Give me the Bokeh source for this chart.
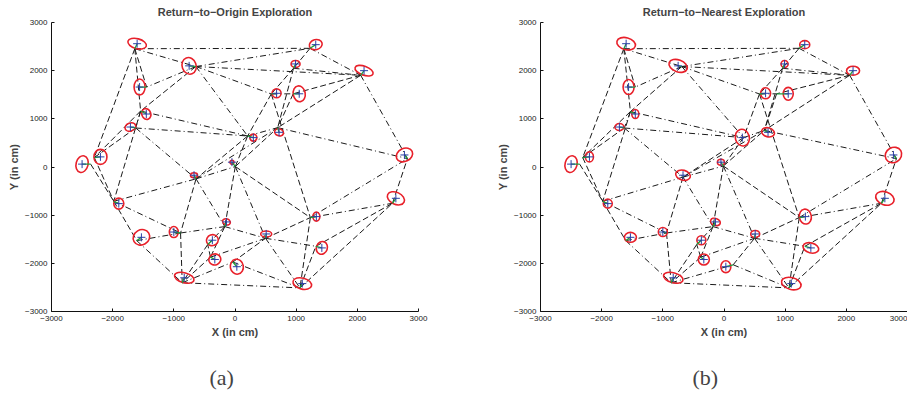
from bokeh.plotting import figure
from bokeh.models import Range1d, FixedTicker, Title, ColumnDataSource
from bokeh.layouts import row
from bokeh.embed import file_html
from bokeh.resources import INLINE

# ---------------- data ----------------
node_names = ["A", "B", "C", "D", "E", "F", "G", "H", "I", "J", "K", "L", "M", "N", "O",
              "P", "Q", "R", "S", "T", "U", "V", "W", "X", "Y", "Z", "a", "b", "c", "d"]
true_x = [-1600, -750, -1560, -1450, -1710, -2500, -2200, 1320, 990, 2110, 680, 1050, 300, 720, 2770,
          -50, -670, -1900, 2630, -1530, -1000, -140, -370, 510, 1330, 1420, -330, 30, -830, 1100]
true_y = [2560, 2100, 1660, 1100, 830, 60, 210, 2540, 2140, 2000, 1530, 1520, 610, 720, 250,
          100, -170, -760, -650, -1460, -1350, -1140, -1520, -1390, -1030, -1680, -1920, -2070, -2300, -2420]

# estimation error (estimated - true), cm
err_x_origin = [-38, 110, 115, -93, 87, 140, -100, -93, -33, -55, -87, -98, -93, -22, 49,
                55, 33, -82, -55, -76, 110, -27, -76, -11, -98, -98, -71, -65, -33, -38]
err_y_origin = [-104, -14, 0, 62, -20, 0, -14, -76, -90, -96, -14, 0, 34, 97, -76,
                -90, -76, 48, -103, -69, -20, -97, -90, -90, -20, 34, 48, 97, -103, -90]
err_x_nearest = [-38, 60, 110, -80, 80, 140, -110, -93, -33, -55, -100, -190, 20, -60, 49,
                 40, 0, -82, -55, -76, 60, -40, -76, -11, -100, -98, -50, 120, -33, -38]
err_y_nearest = [-104, -14, 0, 50, -20, 0, -14, -76, -90, -96, -14, 0, 0, 40, -76,
                 -80, -40, 48, -103, -69, -20, -97, -90, -90, -20, 34, 48, 40, -103, -90]

# uncertainty ellipses (cm) and tilt (deg)
ell_w_origin = [311, 229, 180, 147, 180, 196, 213, 213, 147, 311, 147, 196, 115, 147, 278,
                65, 115, 164, 295, 278, 147, 131, 196, 180, 115, 180, 196, 213, 327, 311]
ell_h_origin = [207, 352, 331, 228, 166, 352, 311, 207, 145, 186, 186, 331, 145, 145, 269,
                83, 104, 228, 248, 311, 228, 124, 228, 124, 186, 269, 228, 311, 207, 228]
ell_a_origin = [-15, 20, 0, 20, 20, -15, 0, 15, 0, -20, 0, 10, 0, -20, 25,
                0, 0, 0, -25, 30, 0, -20, 20, 0, 0, -20, 20, 10, -15, -15]
ell_w_nearest = [311, 311, 180, 115, 147, 196, 131, 164, 115, 213, 164, 164, 229, 213, 278,
                 115, 245, 147, 311, 196, 147, 164, 147, 147, 196, 262, 180, 164, 327, 327]
ell_h_nearest = [248, 248, 311, 186, 145, 352, 207, 166, 145, 186, 228, 269, 352, 186, 311,
                 124, 207, 186, 269, 207, 186, 145, 186, 145, 311, 207, 228, 248, 207, 248]
ell_a_nearest = [-15, -20, 0, 0, 0, -15, 0, 0, 0, 0, 0, 0, 15, -15, 30,
                 0, -15, 0, -20, 0, 0, -20, 0, 0, 10, -15, 0, 0, -15, -15]

edges_dashdot = [("A", "H"), ("B", "H"), ("B", "J"), ("I", "J"), ("B", "K"), ("A", "B"), ("H", "J"),
                 ("B", "C"), ("B", "M"), ("D", "M"), ("E", "M"), ("E", "Q"), ("R", "Q"), ("R", "U"),
                 ("T", "U"), ("U", "V"), ("V", "X"), ("c", "b"), ("c", "d"), ("a", "X"), ("X", "Z"),
                 ("X", "d"), ("Y", "S"), ("Y", "O"), ("N", "O"), ("M", "N"), ("Q", "N"), ("Q", "P"),
                 ("P", "X"), ("T", "c"), ("b", "d"), ("Q", "V"), ("K", "L"), ("J", "O"), ("D", "E")]
edges_dashed = [("A", "C"), ("A", "D"), ("A", "G"), ("D", "G"), ("E", "G"), ("B", "D"), ("D", "R"),
                ("F", "R"), ("G", "R"), ("R", "T"), ("Q", "U"), ("U", "c"), ("P", "V"), ("V", "W"),
                ("W", "c"), ("a", "c"), ("b", "X"), ("X", "Y"), ("Z", "S"), ("d", "S"), ("d", "Z"),
                ("S", "O"), ("H", "I"), ("I", "K"), ("I", "N"), ("J", "L"), ("J", "N"), ("K", "M"),
                ("K", "Y"), ("L", "N"), ("M", "Q"), ("P", "N"), ("P", "Y"), ("Y", "d"), ("a", "W"),
                ("V", "a"), ("M", "P")]

axis_ticks = [-3000, -2000, -1000, 0, 1000, 2000, 3000]
axis_tick_labels = ["\u22123000", "\u22122000", "\u22121000", "0", "1000", "2000", "3000"]

titles = ["Return\u2212to\u2212Origin Exploration", "Return\u2212to\u2212Nearest Exploration"]
captions = ["(a)", "(b)"]

SANS = "Liberation Sans"


def make_panel(title, caption, err_x, err_y, ew, eh, ea, border_left, border_right, cap_offset):
    p = figure(frame_width=367, frame_height=289, output_backend="svg", toolbar_location=None,
               x_range=Range1d(-3000, 3000), y_range=Range1d(-3000, 3000),
               min_border_left=border_left, min_border_right=border_right,
               min_border_top=21, min_border_bottom=0)
    p.title.text = title
    p.title.align = "center"
    p.title.vertical_align = "middle"
    p.title.text_font = SANS
    p.title.text_font_size = "11px"
    p.title.text_font_style = "bold"
    p.title.standoff = 8
    p.title.offset = 0
    p.outline_line_color = None
    p.grid.visible = False
    p.background_fill_color = "white"

    for ax in (p.xaxis[0], p.yaxis[0]):
        ax.ticker = FixedTicker(ticks=axis_ticks)
        ax.major_label_overrides = dict(zip(axis_ticks, axis_tick_labels))
        ax.major_label_text_font = SANS
        ax.major_label_text_font_size = "8px"
        ax.major_label_text_color = "#222222"
        ax.major_tick_in = 3
        ax.major_tick_out = 0
        ax.minor_tick_line_color = None
        ax.axis_line_color = "#111111"
        ax.major_tick_line_color = "#111111"
        ax.axis_label_text_font = SANS
        ax.axis_label_text_font_size = "11px"
        ax.axis_label_text_font_style = "bold"
        ax.major_label_standoff = 4
        ax.axis_label_standoff = 2
    p.xaxis.axis_label = "X (in cm)"
    p.yaxis.axis_label = "Y (in cm)"

    est_x = [tx + dx for tx, dx in zip(true_x, err_x)]
    est_y = [ty + dy for ty, dy in zip(true_y, err_y)]
    idx = {n: i for i, n in enumerate(node_names)}

    for edges, dash in ((edges_dashdot, "6 3 1 3"), (edges_dashed, "6 3")):
        src = ColumnDataSource(dict(
            x0=[est_x[idx[a]] for a, b in edges], y0=[est_y[idx[a]] for a, b in edges],
            x1=[est_x[idx[b]] for a, b in edges], y1=[est_y[idx[b]] for a, b in edges]))
        p.segment("x0", "y0", "x1", "y1", source=src, line_color="#1a1a1a",
                  line_width=1, line_dash=dash)

    p.ellipse(x=true_x, y=true_y, width=ew, height=eh, angle=ea, angle_units="deg",
              fill_color=None, line_color="#e8202a", line_width=1.6)
    p.segment(x0=true_x, y0=true_y, x1=est_x, y1=est_y, line_color="#1e9e3c", line_width=1.3)
    p.scatter(x=true_x, y=true_y, marker="cross", size=8, line_color="#2a3fa5", line_width=1)

    cap = Title(text=caption, align="left", text_font="Liberation Serif",
                text_font_size="22px", text_font_style="normal", standoff=44, offset=cap_offset)
    p.add_layout(cap, "below")
    return p


p1 = make_panel(titles[0], captions[0], err_x_origin, err_y_origin,
                ell_w_origin, ell_h_origin, ell_a_origin, 51, 36, 158)
p2 = make_panel(titles[1], captions[1], err_x_nearest, err_y_nearest,
                ell_w_nearest, ell_h_nearest, ell_a_nearest, 86, 0, 152)

layout = row(p1, p2, spacing=0)
open("out.html", "w").write(file_html(layout, INLINE))
